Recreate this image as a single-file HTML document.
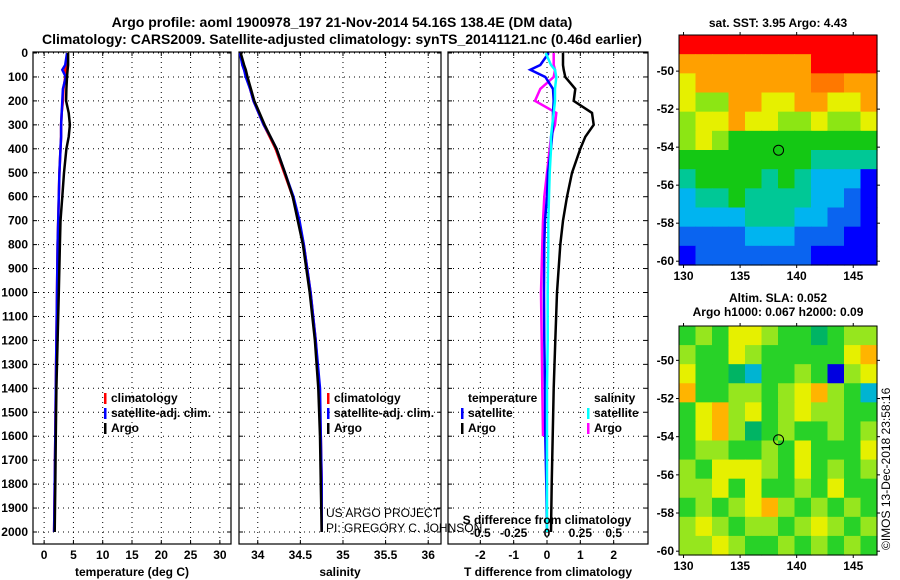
<!DOCTYPE html>
<html><head><meta charset="utf-8"><style>
body{margin:0;background:#fff;}
svg{display:block;font-family:"Liberation Sans",sans-serif;font-weight:bold;}
</style></head><body>
<svg id="c" width="900" height="580" viewBox="0 0 900 580">
<text x="342" y="27" font-size="14" text-anchor="middle">Argo profile: aoml 1900978_197 21-Nov-2014 54.16S 138.4E (DM data)</text>
<text x="342" y="44" font-size="14" text-anchor="middle">Climatology: CARS2009. Satellite-adjusted climatology: synTS_20141121.nc (0.46d earlier)</text>
<text x="778" y="27" font-size="12" text-anchor="middle">sat. SST: 3.95 Argo: 4.43</text>
<text x="778" y="302" font-size="12" text-anchor="middle">Altim. SLA: 0.052</text>
<text x="778" y="316" font-size="12" text-anchor="middle">Argo h1000: 0.067 h2000: 0.09</text>
<text transform="translate(890,550) rotate(-90)" font-size="12" font-weight="normal">©IMOS 13-Dec-2018 23:58:16</text>
<g id="g"></g>
</svg>
<script>
const depths=[0,50,70,100,150,200,250,300,350,400,500,600,700,800,1000,1200,1400,1600,1800,2000];
const tArgo=[4.1,4.1,4.0,3.9,3.8,3.75,4.2,4.4,4.2,3.8,3.4,3.1,2.8,2.7,2.5,2.3,2.1,2.0,1.9,1.8];
const tSat=[3.9,3.6,3.1,3.7,3.2,3.1,3.0,2.9,2.9,2.8,2.6,2.5,2.4,2.3,2.2,2.1,2.0,1.9,1.8,1.7];
const tClim=[4.0,3.8,3.6,3.6,3.3,3.2,3.0,2.9,2.9,2.8,2.6,2.5,2.4,2.3,2.2,2.1,2.0,1.9,1.8,1.7];
const sArgo=[33.8,33.84,33.86,33.88,33.92,33.96,34.02,34.08,34.15,34.22,34.32,34.41,34.47,34.53,34.61,34.67,34.71,34.73,34.74,34.75];
const sSat=[33.79,33.82,33.84,33.86,33.91,33.95,34.01,34.07,34.15,34.22,34.32,34.42,34.49,34.54,34.62,34.68,34.73,34.74,34.75,34.75];
const sClim=[33.8,33.82,33.84,33.87,33.91,33.95,34.01,34.07,34.14,34.21,34.31,34.41,34.48,34.54,34.62,34.68,34.72,34.74,34.75,34.75];
const dTArgo=[0.48,0.48,0.5,0.55,0.85,0.8,1.35,1.4,1.15,1.0,0.75,0.6,0.48,0.4,0.3,0.25,0.2,0.17,0.14,0.12];
const dTSat=[0.05,-0.2,-0.5,-0.05,0.18,0.2,0.18,0.18,0.15,0.12,0.03,0.0,-0.06,-0.08,-0.09,-0.08,-0.06,-0.05,-0.02,0.0];
const dSSat=[-0.01,0.03,0.06,0.07,0.06,0.06,0.05,0.04,0.03,0.03,0.02,0.015,0.01,0.01,0.005,0.005,0.0,0.0,0.0,0.0];
const dSArgo=[0.05,0.05,0.06,0.05,-0.05,-0.09,0.07,0.06,0.03,0.02,0.0,-0.02,-0.03,-0.035,-0.045,-0.04,-0.035,-0.03,-0.03,-0.03];
const depthTicks=[0,100,200,300,400,500,600,700,800,900,1000,1100,1200,1300,1400,1500,1600,1700,1800,1900,2000];
const tTicks=[0,5,10,15,20,25,30];
const sTicks=[34,34.5,35,35.5,36];
const sTickLabels=["34","34.5","35","35.5","36"];
const dTTicks=[-2,-1,0,1,2];
const dSTicks=[-0.5,-0.25,0,0.25,0.5];
const latTicks=[-50,-52,-54,-56,-58,-60];
const lonTicks=[130,135,140,145];
const floatLon=138.4, floatLat=-54.16;
// SST grid rows -48..-60 (12 rows), cols 129.6..146.8 (12 cols)
const sstGrid=[
[9,9,9,9,9,9,9,9,9,9,9,9],
[7,7,7,7,7,7,7,7.5,9,9,9,9],
[6.5,7,7,7,7,7,7,7,8,8,7,7],
[6,5.8,5.5,7,7,6,6,7,7,6,6,7],
[5.5,6,6,7,6.5,6,5,5,6,5,5,6],
[5,6,5.5,4,4.5,4,4.5,4,4,4,4,4.5],
[4,4.2,4,4,4,4,4,4,3.5,3.5,3.5,3.5],
[3.5,4,4,4,4,3.5,4,3.5,3.2,3,3,2],
[3.3,3.5,3.8,4,3.5,3.5,3.8,3.5,3,3,2.5,2],
[3,3,3,3,3.5,3.5,3.5,3,3,2.5,2.5,2],
[2.5,2.5,2.5,2.5,3,3,3,2.5,2.5,2.5,2,2],
[2.3,2.5,2.5,2.5,2.5,2.5,2.5,2.5,2.2,2.2,2,2]];
const slaGrid=[
[0,0.05,0,0.08,0.1,0.05,0,0,-0.05,0,0.05,0.05],
[0.05,0,0,0.1,0.05,0,0,0,0,0,0.1,0.16],
[0.1,0,0,-0.03,-0.08,0,0,0.05,0,-0.25,0.05,0.1],
[0.12,0,0,0.03,0.05,0,0.05,0.1,0.15,0.05,0,-0.1],
[0,0.08,0.13,0.05,0.1,0,0.05,0.1,0.05,0.05,0,0],
[0,0.1,0.15,0.05,-0.03,0,0.05,0,0,0.05,0,0.05],
[0,0.05,0.05,0,0,0.05,0,0.08,0,0,0,0.1],
[0.05,0,0.08,0.1,0.08,0.05,0,0.08,0,0.05,0,0.05],
[0.05,0.05,0.1,0,0.1,0,0,0.05,0,0.1,0,0],
[0,0.05,0,0.05,0.1,0.15,0.05,0,0.05,0,0.05,0],
[0.05,0.08,0.05,0,0.05,0.05,0,0.05,0.08,0.05,0,0.05],
[0.05,0.05,0.08,0.05,0,0,0.05,0,0.05,0,0.05,0]];

const NS="http://www.w3.org/2000/svg";
const G=document.getElementById('g');
function el(tag,attrs,parent){const e=document.createElementNS(NS,tag);for(const k in attrs)e.setAttribute(k,attrs[k]);(parent||G).appendChild(e);return e;}
const y0=53, yPer=0.2395; // px per dbar
function yD(d){return y0+d*yPer;}
const panels=[
 {x0:33,x1:231,v0:-1.9,v1:31.9,name:'temperature-panel'},
 {x0:239,x1:441,v0:33.78,v1:36.15,name:'salinity-panel'},
 {x0:448,x1:648,v0:-2.97,v1:3.03,name:'difference-panel'}];
function xP(p,v){return p.x0+(v-p.v0)/(p.v1-p.v0)*(p.x1-p.x0);}
const yTop=52,yBot=544;
function line(pts,color,w,name){
 const e=el('polyline',{points:pts.map(p=>p[0].toFixed(1)+','+p[1].toFixed(1)).join(' '),fill:'none',stroke:color,'stroke-width':w});
 
 
}
panels.forEach((p,pi)=>{
 const b=el('rect',{x:p.x0,y:yTop,width:p.x1-p.x0,height:yBot-yTop,fill:'none',stroke:'#000','stroke-width':1.2});
 
 
 depthTicks.forEach(d=>{
  const gl=el('line',{x1:p.x0,x2:p.x1,y1:yD(d),y2:yD(d),stroke:'#000','stroke-dasharray':'1 4','stroke-width':1});
  
  
  el('line',{x1:p.x0,x2:p.x0+4,y1:yD(d),y2:yD(d),stroke:'#000'});
  el('line',{x1:p.x1-4,x2:p.x1,y1:yD(d),y2:yD(d),stroke:'#000'});
 });
 const ticks=pi==0?tTicks:pi==1?sTicks:dTTicks;
 ticks.forEach((t,i)=>{
  const x=xP(p,t);
  const gl=el('line',{x1:x,x2:x,y1:yTop,y2:yBot,stroke:'#000','stroke-dasharray':'1 4'});
  
  
  el('line',{x1:x,x2:x,y1:yBot-4,y2:yBot,stroke:'#000'});
  el('line',{x1:x,x2:x,y1:yTop,y2:yTop+4,stroke:'#000'});
  const lab=pi==1?sTickLabels[i]:String(t);
  const tx=el('text',{x:x,y:559,'font-size':12,'text-anchor':'middle'});tx.textContent=lab;
  
  
 });
});
depthTicks.forEach(d=>{
 const t=el('text',{x:28,y:yD(d)+4,'font-size':12,'text-anchor':'end'});t.textContent=d;
 
 
});
[['temperature (deg C)',132],['salinity',340],['T difference from climatology',548]].forEach(a=>{
 const t=el('text',{x:a[1],y:576,'font-size':12,'text-anchor':'middle'});t.textContent=a[0];
 
 
});
const P=panels;
line(depths.map((d,i)=>[xP(P[0],tClim[i]),yD(d)]),'#f00',2.5,'temp-climatology-line');
line(depths.map((d,i)=>[xP(P[0],tSat[i]),yD(d)]),'#00f',2.5,'temp-satellite-line');
line(depths.map((d,i)=>[xP(P[0],tArgo[i]),yD(d)]),'#000',2.5,'temp-argo-line');
line(depths.map((d,i)=>[xP(P[1],sClim[i]),yD(d)]),'#f00',2.5,'sal-climatology-line');
line(depths.map((d,i)=>[xP(P[1],sSat[i]),yD(d)]),'#00f',2.5,'sal-satellite-line');
line(depths.map((d,i)=>[xP(P[1],sArgo[i]),yD(d)]),'#000',2.5,'sal-argo-line');
const sx=v=>xP(P[2],v*4);
line(depths.map((d,i)=>[sx(dSArgo[i]),yD(d)]).slice(0,18),'#f0f',2.5,'sdiff-argo-line');
line(depths.map((d,i)=>[xP(P[2],dTSat[i]),yD(d)]),'#00f',2.5,'tdiff-satellite-line');
line(depths.map((d,i)=>[sx(dSSat[i]),yD(d)]),'#0ff',2.5,'sdiff-satellite-line');
line(depths.map((d,i)=>[xP(P[2],dTArgo[i]),yD(d)]),'#000',2.5,'tdiff-argo-line');
// S difference axis inset
dSTicks.forEach(v=>{
 const t=el('text',{x:sx(v),y:537,'font-size':12,'text-anchor':'middle'});t.textContent=String(v).replace('0.','0.');
 
 
});
const st=el('text',{x:547,y:524,'font-size':12,'text-anchor':'middle'});st.textContent='S difference from climatology';


// legends
function legend(x,y,items,name){
 items.forEach((it,i)=>{
  if(it[1]){const r=el('rect',{x:x,y:y+i*15-9,width:2.5,height:11,fill:it[1]});}
  const t=el('text',{x:x+7,y:y+i*15,'font-size':12});t.textContent=it[0];
  
  
 });
}
legend(104,402,[['climatology','#f00'],['satellite-adj. clim.','#00f'],['Argo','#000']],'temp-legend');
legend(327,402,[['climatology','#f00'],['satellite-adj. clim.','#00f'],['Argo','#000']],'sal-legend');
legend(461,402,[['temperature',null],['satellite','#00f'],['Argo','#000']],'tdiff-legend');
legend(587,402,[['salinity',null],['satellite','#0ff'],['Argo','#f0f']],'sdiff-legend');
[['US ARGO PROJECT',517],['PI: GREGORY C. JOHNSON',532]].forEach(a=>{
 const t=el('text',{x:326,y:a[1],'font-size':12,'font-weight':'normal'});t.textContent=a[0];
 
 
});
// maps
function sstColor(v){const s=[[2,'#0000ff'],[2.5,'#0a64f0'],[3,'#00b4f0'],[3.5,'#00c896'],[4,'#14c814'],[5,'#8ce614'],[6,'#e6f000'],[7,'#ffa000'],[8,'#ff7800'],[9,'#ff0000']];
 for(let i=s.length-1;i>=0;i--)if(v>=s[i][0]-0.01)return s[i][1];return s[0][1];}
function slaColor(v){if(v<=-0.2)return '#0000e0';if(v<=-0.07)return '#00b4d2';if(v<-0.02)return '#00b464';if(v<0.03)return '#28d228';if(v<0.07)return '#96e61e';if(v<0.12)return '#e6f000';return '#ffb400';}
function map(top,bot,latTop,grid,colorFn,name){
 const x0=679,x1=877,lon0=129.6,lon1=147.1;
 const xL=v=>x0+(v-lon0)/(lon1-lon0)*(x1-x0);
 const yL=v=>top+(latTop-v)/(latTop+60.2)*(bot-top);
 const rows=grid.length,cols=grid[0].length;
 const cw=(x1-x0)/cols,ch=(bot-top)/rows;
 grid.forEach((row,r)=>row.forEach((v,c)=>{
  const cell=el('rect',{x:x0+c*cw,y:top+r*ch,width:cw+0.6,height:ch+0.6,fill:colorFn(v)});
  
  
 }));
 const fr=el('rect',{x:x0,y:top,width:x1-x0,height:bot-top,fill:'none',stroke:'#000'});
 
 
 latTicks.forEach(l=>{const y=yL(l);
  el('line',{x1:x0-3,x2:x0,y1:y,y2:y,stroke:'#000'});el('line',{x1:x1,x2:x1+3,y1:y,y2:y,stroke:'#000'});
  const t=el('text',{x:x0-5,y:y+4,'font-size':12,'text-anchor':'end'});t.textContent=l;
  
  
 });
 lonTicks.forEach(l=>{const x=xL(l);
  el('line',{x1:x,x2:x,y1:top-3,y2:top,stroke:'#000'});el('line',{x1:x,x2:x,y1:bot,y2:bot+3,stroke:'#000'});
  const t=el('text',{x:x,y:bot+15,'font-size':12,'text-anchor':'middle'});t.textContent=l;
  
  
 });
 const m=el('circle',{cx:xL(floatLon),cy:yL(floatLat),r:5,fill:'none',stroke:'#000','stroke-width':1});
 
 
}
map(35,265,-48.1,sstGrid,sstColor,'sst-map');
map(326,555,-48.2,slaGrid,slaColor,'sla-map');
</script>
</body></html>
